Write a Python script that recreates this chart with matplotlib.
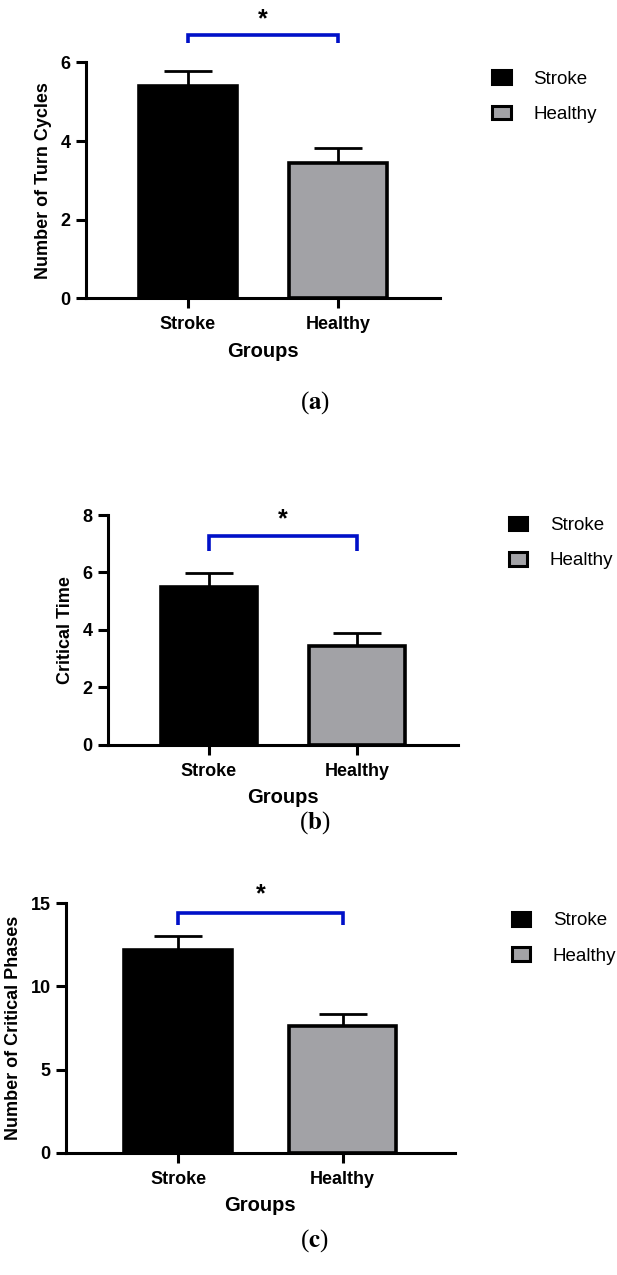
import matplotlib
matplotlib.use("Agg")
import matplotlib.pyplot as plt
from matplotlib.patches import Patch

plt.rcParams["font.family"] = ["Liberation Sans", "DejaVu Sans"]
plt.rcParams["mathtext.fontset"] = "stix"

groups = ["Stroke", "Healthy"]
colors = ["#000000", "#a2a2a6"]

turn_means = [5.4, 3.45]
turn_err = [0.38, 0.37]
crit_time_means = [5.5, 3.45]
crit_time_err = [0.47, 0.45]
crit_phase_means = [12.2, 7.6]
crit_phase_err = [0.8, 0.75]

panels = [
    # means, errs, ylabel, yticks, ylim, bracket y, bracket drop, star y, caption
    (turn_means, turn_err, "Number of Turn Cycles", [0, 2, 4, 6], 6, 6.69, 6.49, 6.8, "a"),
    (crit_time_means, crit_time_err, "Critical Time", [0, 2, 4, 6, 8], 8, 7.27, 6.75, 7.45, "b"),
    (crit_phase_means, crit_phase_err, "Number of Critical Phases", [0, 5, 10, 15], 15, 14.4, 13.7, 14.8, "c"),
]

axes_pos = [
    [0.139, 0.766, 0.574, 0.185],
    [0.175, 0.416, 0.567, 0.180],
    [0.107, 0.0957, 0.630, 0.196],
]
legend_pos = [(0.77, 0.958), (0.797, 0.608), (0.802, 0.298)]
caption_y = [0.684, 0.355, 0.027]

fig = plt.figure(figsize=(6.17, 12.75), dpi=100)

for i, (means, errs, ylab, yt, ymax, by, bd, sy, cap) in enumerate(panels):
    ax = fig.add_axes(axes_pos[i])
    x = list(range(len(groups)))
    ax.bar(x, means, width=0.65, color=colors, edgecolor="black", linewidth=2.6, zorder=2)
    ax.errorbar(x, means, yerr=[[0, 0], errs], fmt="none", ecolor="black",
                elinewidth=2, capsize=17, capthick=2, zorder=1)
    ax.set_xlim(-0.68, 1.68)
    ax.set_ylim(0, ymax)
    ax.set_yticks(yt)
    ax.set_xticks(x)
    ax.set_xticklabels(groups, fontweight="bold", fontsize=13)
    for lab in ax.get_yticklabels():
        lab.set_fontweight("bold")
        lab.set_fontsize(13)
    ax.spines["top"].set_visible(False)
    ax.spines["right"].set_visible(False)
    ax.spines["left"].set_linewidth(2.2)
    ax.spines["bottom"].set_linewidth(2.2)
    ax.tick_params(width=2.2, length=7, direction="out", pad=4)
    ax.tick_params(axis="x", pad=6)
    ax.set_ylabel(ylab, fontweight="bold", fontsize=13, labelpad=6)
    ax.set_xlabel("Groups", fontweight="bold", fontsize=14.5, labelpad=6)

    # significance bracket
    ax.plot([0, 0, 1, 1], [bd, by, by, bd], color="#0010c8", linewidth=2.6,
            clip_on=False, solid_capstyle="butt", solid_joinstyle="miter")
    ax.text(0.5, sy, "*", ha="center", va="bottom", fontsize=18,
            fontweight="bold", clip_on=False)

    handles = [Patch(facecolor=colors[k], edgecolor="black", linewidth=2.2, label=groups[k])
               for k in range(len(groups))]
    ax.legend(handles=handles, loc="upper left", bbox_to_anchor=legend_pos[i],
              bbox_transform=fig.transFigure, frameon=False, fontsize=13.5,
              handlelength=1.0, handleheight=0.75, handletextpad=1.2, labelspacing=0.95)

    fig.text(0.51, caption_y[i], "(" + r"$\mathbf{" + cap + "}$" + ")", ha="center",
             va="center", fontsize=18, family="Liberation Serif")

fig.savefig("out.png", dpi=100)
